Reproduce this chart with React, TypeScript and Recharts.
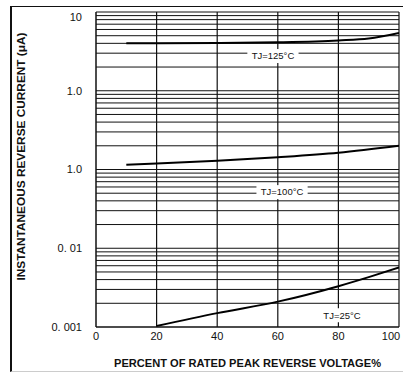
import React from 'react';
import { LineChart, Line, XAxis, YAxis, ReferenceLine, ReferenceDot } from 'recharts';

const xTicks = [0, 20, 40, 60, 80, 100];
const xGrid = [20, 40, 60, 80, 100];
const yTicks = [0.001, 0.01, 0.1, 1, 10];
const yTickLabels = ['0. 001', '0. 01', '1.0', '1.0', '10'];
const yGrid = [
  0.002, 0.003, 0.004, 0.005, 0.006, 0.007, 0.008, 0.009, 0.01,
  0.02, 0.03, 0.04, 0.05, 0.06, 0.07, 0.08, 0.09, 0.1,
  0.2, 0.3, 0.4, 0.5, 0.6, 0.7, 0.8, 0.9, 1,
  2, 3, 4, 5, 6, 7, 8, 9, 10,
];

const tj125 = [
  { x: 10, y: 4.0 },
  { x: 20, y: 4.0 },
  { x: 40, y: 4.03 },
  { x: 60, y: 4.12 },
  { x: 80, y: 4.35 },
  { x: 90, y: 4.6 },
  { x: 100, y: 5.4 },
];
const tj100 = [
  { x: 10, y: 0.115 },
  { x: 20, y: 0.119 },
  { x: 40, y: 0.129 },
  { x: 60, y: 0.143 },
  { x: 80, y: 0.163 },
  { x: 100, y: 0.2 },
];
const tj25 = [
  { x: 20, y: 0.00103 },
  { x: 40, y: 0.0015 },
  { x: 60, y: 0.0021 },
  { x: 80, y: 0.0033 },
  { x: 90, y: 0.0043 },
  { x: 100, y: 0.0057 },
];

const curveLabels = [
  { text: 'TJ=125°C', x: 58.4, y: 2.76 },
  { text: 'TJ=100°C', x: 61.4, y: 0.0516 },
  { text: 'TJ=25°C', x: 81.2, y: 0.00141 },
];

const xTitle = 'PERCENT OF RATED PEAK REVERSE VOLTAGE%';
const yTitle = 'INSTANTANEOUS REVERSE CURRENT (μA)';

const FONT = '"Liberation Sans", Arial, sans-serif';

const YTick = (props: any) => {
  const { x, y, payload } = props;
  const idx = yTicks.findIndex((t) => Math.abs(t - payload.value) / t < 1e-6);
  const dy = payload.value >= 10 ? 5 : 0;
  return (
    <text x={x} y={y + dy} dy="0.35em" textAnchor="end" fontSize={11} fontFamily={FONT} fill="#111">
      {idx >= 0 ? yTickLabels[idx] : ''}
    </text>
  );
};

const XTick = (props: any) => {
  const { x, y, payload } = props;
  return (
    <text x={x} y={y} dy="0.71em" textAnchor="middle" fontSize={11} fontFamily={FONT} fill="#111">
      {payload.value}
    </text>
  );
};

const XTitle = (props: any) => {
  const vb = props.viewBox;
  const cx = vb.x + vb.width / 2;
  return (
    <text x={cx} y={vb.y + 39.5} textAnchor="middle" fontSize={11} fontWeight="bold" fontFamily={FONT}
      fill="#111" textLength={267} lengthAdjust="spacingAndGlyphs">
      {xTitle}
    </text>
  );
};

const YTitle = (props: any) => {
  const vb = props.viewBox;
  const cx = 25;
  const cy = vb.y + vb.height / 2 - 13;
  return (
    <text x={cx} y={cy} textAnchor="middle" fontSize={11.5} fontWeight="bold" fontFamily={FONT}
      fill="#111" transform={`rotate(-90 ${cx} ${cy})`} textLength={248} lengthAdjust="spacingAndGlyphs">
      {yTitle}
    </text>
  );
};

const makeLabelShape = (text: string) => (props: any) => {
  const { cx, cy } = props;
  const w = text.length * 5.4 + 8;
  return (
    <g>
      <rect x={cx - w / 2} y={cy - 7} width={w} height={14} fill="#fff" />
      <text x={cx} y={cy} dy="0.35em" textAnchor="middle" fontSize={9.5} fontFamily={FONT} fill="#111">
        {text}
      </text>
    </g>
  );
};

export default function App() {
  return (
    <div style={{ position: 'absolute', left: 0, top: 0, width: 403, height: 372, overflow: 'hidden', background: '#fff' }}>
      <div style={{ position: 'absolute', left: 10, top: 6, width: 400, height: 364, borderLeft: '2.5px solid #111', borderTop: '1.5px solid #111', borderBottom: '1px solid #ccc' }} />
      <div style={{ position: 'absolute', left: 0, top: 0 }}>
        <LineChart width={403} height={372} margin={{ top: 12, right: 4, bottom: 0, left: 0 }}>
          <XAxis type="number" dataKey="x" domain={[0, 100]} ticks={xTicks} allowDataOverflow
            tickLine={false} tickSize={0} tickMargin={5} height={45} tick={<XTick />}
            axisLine={{ stroke: '#111', strokeWidth: 1.5 }} label={<XTitle />} />
          <YAxis type="number" scale="log" domain={[0.001, 10]} ticks={yTicks} allowDataOverflow
            tickLine={false} tickSize={0} tickMargin={14} width={96} tick={<YTick />}
            axisLine={{ stroke: '#111', strokeWidth: 1.5 }} label={<YTitle />} />
          {yGrid.map((v) => (
            <ReferenceLine key={'h' + v} y={v} stroke="#111" strokeWidth={1} />
          ))}
          {xGrid.map((v) => (
            <ReferenceLine key={'v' + v} x={v} stroke="#111" strokeWidth={1.2} />
          ))}
          <Line data={tj125} dataKey="y" type="monotone" stroke="#000" strokeWidth={2} dot={false} isAnimationActive={false} />
          <Line data={tj100} dataKey="y" type="monotone" stroke="#000" strokeWidth={2} dot={false} isAnimationActive={false} />
          <Line data={tj25} dataKey="y" type="monotone" stroke="#000" strokeWidth={2} dot={false} isAnimationActive={false} />
          {curveLabels.map((l) => (
            <ReferenceDot key={l.text} x={l.x} y={l.y} r={0} shape={makeLabelShape(l.text)} />
          ))}
        </LineChart>
      </div>
    </div>
  );
}
